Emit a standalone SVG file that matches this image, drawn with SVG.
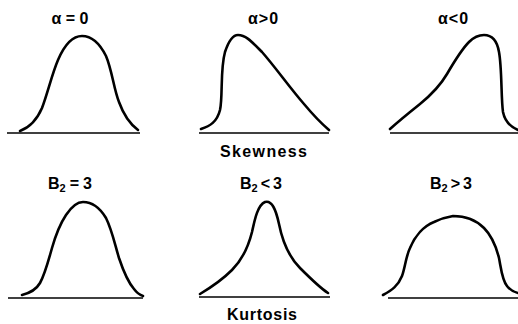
<svg xmlns="http://www.w3.org/2000/svg" width="518" height="324" viewBox="0 0 518 324">
<style>
.bg{fill:#ffffff}
.curve{fill:none;stroke:#000;stroke-width:2.6;stroke-linecap:round;stroke-linejoin:round}
.base{fill:none;stroke:#000;stroke-width:1.5}
.lbl{font-family:"Liberation Sans",Arial,sans-serif;font-weight:bold;font-size:16px;fill:#000;text-anchor:middle}
.lbs{font-family:"Liberation Sans",Arial,sans-serif;font-weight:bold;font-size:16px;fill:#000}
.cap{font-family:"Liberation Sans",Arial,sans-serif;font-weight:bold;font-size:16px;fill:#000}
.sub{font-size:11px}
</style>
<rect class="bg" x="0" y="0" width="518" height="324"/>
<g id="skew-zero">
<line class="base" x1="7" y1="133" x2="140" y2="133"/>
<path class="curve" d="M20,131 C28,128 36,122 42,108 C48,92 52,74 58,60 C64,46 72,36 82,36 C92,36 100,44 106,56 C112,70 114,90 119,102 C124,116 130,124 138,130"/>
<text class="lbl" x="70" y="24">α = 0</text>
</g>
<g id="skew-positive">
<line class="base" x1="199" y1="133" x2="329" y2="133"/>
<path class="curve" d="M201,129 C210,126 217,122 220,110 C223,96 220,70 225,52 C229,40 233,35 238,35 C246,35 252,42 262,52 C276,68 290,88 304,104 C314,116 322,124 329,130"/>
<text class="lbl" x="263" y="24">α<tspan dx="1">&gt;</tspan><tspan dx="1">0</tspan></text>
</g>
<g id="skew-negative">
<line class="base" x1="390" y1="133" x2="518" y2="133"/>
<path class="curve" d="M390,129 C400,120 410,112 420,104 C431,95 440,86 447,74 C454,62 461,50 469,42 C474,37 479,35 484,35 C492,35 497,40 499,52 C502,68 501,98 503,112 C505,122 511,127 518,130"/>
<text class="lbl" x="453" y="24">α<tspan dx="1">&lt;</tspan><tspan dx="1">0</tspan></text>
</g>
<g id="skewness-caption">
<text class="cap" x="220" y="157" textLength="87" lengthAdjust="spacing">Skewness</text>
</g>
<g id="kurt-normal">
<line class="base" x1="8" y1="298" x2="143" y2="298"/>
<path class="curve" d="M22,295 C30,293 36,290 40,283 C45,274 48,262 52,248 C56,234 60,224 66,215 C72,206 77,202 83,202 C92,202 100,208 106,218 C112,230 115,245 119,258 C123,270 128,282 134,289 C137,293 140,295 143,296"/>
<text class="lbs" x="48" y="189">B<tspan class="sub" dy="3">2</tspan><tspan dy="-3" dx="4">=</tspan><tspan dx="4">3</tspan></text>
</g>
<g id="kurt-less">
<line class="base" x1="199" y1="297" x2="330" y2="297"/>
<path class="curve" d="M200,294 C210,288 222,280 232,270 C242,260 248,248 252,232 C255,218 258,205 265,202 C272,200 276,210 279,224 C283,244 290,258 300,268 C310,278 320,288 328,293"/>
<text class="lbs" x="240" y="189">B<tspan class="sub" dy="3">2</tspan><tspan dy="-3" dx="3">&lt;</tspan><tspan dx="3">3</tspan></text>
</g>
<g id="kurt-greater">
<line class="base" x1="388" y1="298" x2="518" y2="298"/>
<path class="curve" d="M383,295 C392,290 398,286 402,276 C405,268 406,256 410,248 C415,236 424,226 434,222 C442,218 447,217 453,216 C466,216 476,220 484,228 C492,236 496,246 499,258 C501,268 502,280 507,286 C510,290 514,292 518,293"/>
<text class="lbs" x="430" y="189">B<tspan class="sub" dy="3">2</tspan><tspan dy="-3" dx="3">&gt;</tspan><tspan dx="3">3</tspan></text>
</g>
<g id="kurtosis-caption">
<text class="cap" x="227" y="320" textLength="70" lengthAdjust="spacing">Kurtosis</text>
</g>
<g id="connectors"/>
</svg>
